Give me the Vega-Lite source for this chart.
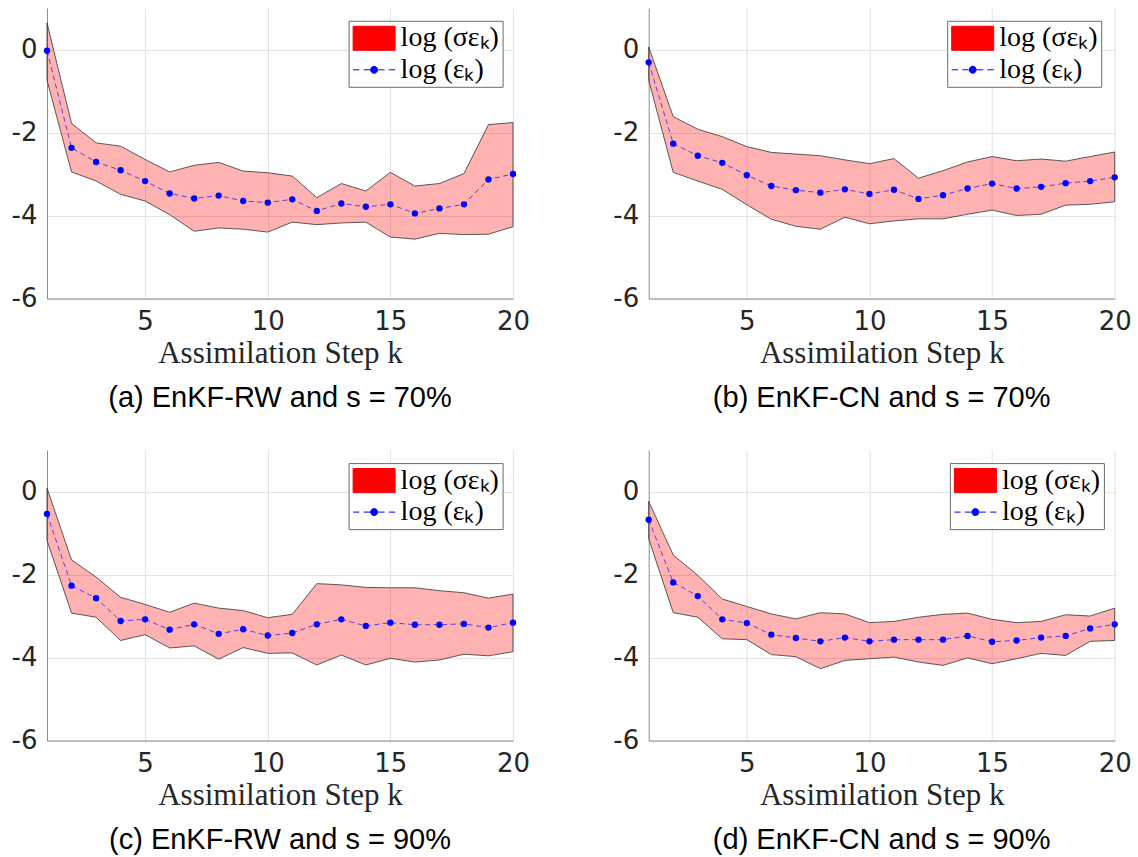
{
  "$schema": "https://vega.github.io/schema/vega-lite/v6.json",
  "background": "white",
  "padding": {"left": 11, "top": 8, "right": 0, "bottom": 0},
  "data": {
    "values": [
      {"panel": "a", "k": 1, "lo": -0.74, "hi": 0.64, "err": -0.03},
      {"panel": "a", "k": 2, "lo": -2.95, "hi": -1.78, "err": -2.37},
      {"panel": "a", "k": 3, "lo": -3.17, "hi": -2.25, "err": -2.71},
      {"panel": "a", "k": 4, "lo": -3.49, "hi": -2.33, "err": -2.91},
      {"panel": "a", "k": 5, "lo": -3.65, "hi": -2.65, "err": -3.17},
      {"panel": "a", "k": 6, "lo": -3.98, "hi": -2.95, "err": -3.47},
      {"panel": "a", "k": 7, "lo": -4.38, "hi": -2.79, "err": -3.59},
      {"panel": "a", "k": 8, "lo": -4.3, "hi": -2.72, "err": -3.52},
      {"panel": "a", "k": 9, "lo": -4.33, "hi": -2.93, "err": -3.65},
      {"panel": "a", "k": 10, "lo": -4.4, "hi": -2.97, "err": -3.69},
      {"panel": "a", "k": 11, "lo": -4.16, "hi": -3.05, "err": -3.61},
      {"panel": "a", "k": 12, "lo": -4.22, "hi": -3.57, "err": -3.89},
      {"panel": "a", "k": 13, "lo": -4.18, "hi": -3.23, "err": -3.71},
      {"panel": "a", "k": 14, "lo": -4.16, "hi": -3.41, "err": -3.79},
      {"panel": "a", "k": 15, "lo": -4.52, "hi": -2.96, "err": -3.73},
      {"panel": "a", "k": 16, "lo": -4.57, "hi": -3.29, "err": -3.95},
      {"panel": "a", "k": 17, "lo": -4.43, "hi": -3.23, "err": -3.83},
      {"panel": "a", "k": 18, "lo": -4.46, "hi": -2.99, "err": -3.73},
      {"panel": "a", "k": 19, "lo": -4.45, "hi": -1.81, "err": -3.13},
      {"panel": "a", "k": 20, "lo": -4.27, "hi": -1.76, "err": -3.0},
      {"panel": "b", "k": 1, "lo": -0.74, "hi": 0.06, "err": -0.31},
      {"panel": "b", "k": 2, "lo": -2.96, "hi": -1.62, "err": -2.27},
      {"panel": "b", "k": 3, "lo": -3.17, "hi": -1.92, "err": -2.56},
      {"panel": "b", "k": 4, "lo": -3.37, "hi": -2.1, "err": -2.73},
      {"panel": "b", "k": 5, "lo": -3.74, "hi": -2.34, "err": -3.03},
      {"panel": "b", "k": 6, "lo": -4.09, "hi": -2.48, "err": -3.29},
      {"panel": "b", "k": 7, "lo": -4.26, "hi": -2.52, "err": -3.39},
      {"panel": "b", "k": 8, "lo": -4.33, "hi": -2.56, "err": -3.45},
      {"panel": "b", "k": 9, "lo": -4.04, "hi": -2.66, "err": -3.37},
      {"panel": "b", "k": 10, "lo": -4.2, "hi": -2.75, "err": -3.48},
      {"panel": "b", "k": 11, "lo": -4.13, "hi": -2.63, "err": -3.38},
      {"panel": "b", "k": 12, "lo": -4.08, "hi": -3.1, "err": -3.6},
      {"panel": "b", "k": 13, "lo": -4.08, "hi": -2.92, "err": -3.51},
      {"panel": "b", "k": 14, "lo": -3.97, "hi": -2.71, "err": -3.35},
      {"panel": "b", "k": 15, "lo": -3.87, "hi": -2.58, "err": -3.23},
      {"panel": "b", "k": 16, "lo": -4.0, "hi": -2.68, "err": -3.35},
      {"panel": "b", "k": 17, "lo": -3.97, "hi": -2.64, "err": -3.31},
      {"panel": "b", "k": 18, "lo": -3.75, "hi": -2.69, "err": -3.22},
      {"panel": "b", "k": 19, "lo": -3.73, "hi": -2.58, "err": -3.17},
      {"panel": "b", "k": 20, "lo": -3.67, "hi": -2.47, "err": -3.08},
      {"panel": "c", "k": 1, "lo": -1.18, "hi": 0.08, "err": -0.54},
      {"panel": "c", "k": 2, "lo": -2.93, "hi": -1.65, "err": -2.27},
      {"panel": "c", "k": 3, "lo": -3.03, "hi": -2.06, "err": -2.57},
      {"panel": "c", "k": 4, "lo": -3.59, "hi": -2.55, "err": -3.12},
      {"panel": "c", "k": 5, "lo": -3.45, "hi": -2.72, "err": -3.08},
      {"panel": "c", "k": 6, "lo": -3.77, "hi": -2.91, "err": -3.33},
      {"panel": "c", "k": 7, "lo": -3.72, "hi": -2.69, "err": -3.2},
      {"panel": "c", "k": 8, "lo": -4.04, "hi": -2.81, "err": -3.43},
      {"panel": "c", "k": 9, "lo": -3.76, "hi": -2.87, "err": -3.32},
      {"panel": "c", "k": 10, "lo": -3.9, "hi": -3.04, "err": -3.47},
      {"panel": "c", "k": 11, "lo": -3.89, "hi": -2.96, "err": -3.41},
      {"panel": "c", "k": 12, "lo": -4.18, "hi": -2.22, "err": -3.2},
      {"panel": "c", "k": 13, "lo": -3.94, "hi": -2.25, "err": -3.08},
      {"panel": "c", "k": 14, "lo": -4.18, "hi": -2.31, "err": -3.24},
      {"panel": "c", "k": 15, "lo": -4.02, "hi": -2.32, "err": -3.16},
      {"panel": "c", "k": 16, "lo": -4.11, "hi": -2.32, "err": -3.21},
      {"panel": "c", "k": 17, "lo": -4.06, "hi": -2.39, "err": -3.21},
      {"panel": "c", "k": 18, "lo": -3.92, "hi": -2.44, "err": -3.19},
      {"panel": "c", "k": 19, "lo": -3.96, "hi": -2.57, "err": -3.28},
      {"panel": "c", "k": 20, "lo": -3.86, "hi": -2.47, "err": -3.16},
      {"panel": "d", "k": 1, "lo": -1.14, "hi": -0.24, "err": -0.68},
      {"panel": "d", "k": 2, "lo": -2.92, "hi": -1.53, "err": -2.19},
      {"panel": "d", "k": 3, "lo": -3.03, "hi": -2.02, "err": -2.52},
      {"panel": "d", "k": 4, "lo": -3.55, "hi": -2.59, "err": -3.08},
      {"panel": "d", "k": 5, "lo": -3.57, "hi": -2.77, "err": -3.17},
      {"panel": "d", "k": 6, "lo": -3.93, "hi": -2.95, "err": -3.45},
      {"panel": "d", "k": 7, "lo": -3.98, "hi": -3.07, "err": -3.53},
      {"panel": "d", "k": 8, "lo": -4.27, "hi": -2.92, "err": -3.61},
      {"panel": "d", "k": 9, "lo": -4.07, "hi": -2.95, "err": -3.52},
      {"panel": "d", "k": 10, "lo": -4.03, "hi": -3.16, "err": -3.61},
      {"panel": "d", "k": 11, "lo": -3.99, "hi": -3.13, "err": -3.57},
      {"panel": "d", "k": 12, "lo": -4.11, "hi": -3.03, "err": -3.57},
      {"panel": "d", "k": 13, "lo": -4.19, "hi": -2.96, "err": -3.57},
      {"panel": "d", "k": 14, "lo": -4.01, "hi": -2.93, "err": -3.48},
      {"panel": "d", "k": 15, "lo": -4.15, "hi": -3.08, "err": -3.62},
      {"panel": "d", "k": 16, "lo": -4.03, "hi": -3.16, "err": -3.59},
      {"panel": "d", "k": 17, "lo": -3.9, "hi": -3.13, "err": -3.52},
      {"panel": "d", "k": 18, "lo": -3.95, "hi": -2.97, "err": -3.48},
      {"panel": "d", "k": 19, "lo": -3.61, "hi": -3.0, "err": -3.3},
      {"panel": "d", "k": 20, "lo": -3.59, "hi": -2.81, "err": -3.2}
    ]
  },
  "columns": 2,
  "spacing": {"column": 135.7, "row": 151},
  "bounds": "flush",
  "resolve": {"scale": {"color": "independent"}, "legend": {"color": "independent"}},
  "concat": [
    {
      "width": 466, "height": 290.5,
      "title": "(a) EnKF-RW and s = 70%",
      "transform": [{"filter": "datum.panel === 'a'"}],
      "encoding": {
        "x": {"field": "k", "type": "quantitative", "scale": {"domain": [1, 20], "nice": false, "zero": false},
              "axis": {"values": [5, 10, 15, 20], "title": "Assimilation Step k"}}
      },
      "layer": [
        {
          "mark": {"type": "area", "fillOpacity": 0.3, "stroke": "#333333", "strokeWidth": 0.8},
          "encoding": {
            "y": {"field": "lo", "type": "quantitative", "scale": {"domain": [-6, 1], "nice": false, "zero": false},
                  "axis": {"values": [-6, -4, -2, 0], "title": null}},
            "y2": {"field": "hi"},
            "color": {"datum": "sigma", "type": "nominal",
                      "scale": {"domain": ["sigma", "eps"], "range": ["#ff0000", "#0000ff"]},
                      "legend": {"orient": "none", "legendX": 301.6, "legendY": 12.8,
                                 "labelExpr": "datum.value === 'sigma' ? 'log (σεₖ)' : 'log (εₖ)'"}}
          }
        },
        {
          "mark": {"type": "line", "strokeDash": [5, 3.5], "strokeWidth": 1, "strokeOpacity": 0.65},
          "encoding": {"y": {"field": "err", "type": "quantitative"}, "color": {"datum": "eps", "type": "nominal"}}
        },
        {
          "mark": {"type": "point", "filled": true, "size": 40, "opacity": 1},
          "encoding": {"y": {"field": "err", "type": "quantitative"}, "color": {"datum": "eps", "type": "nominal"}}
        }
      ]
    },
    {
      "width": 466, "height": 290.5,
      "title": "(b) EnKF-CN and s = 70%",
      "transform": [{"filter": "datum.panel === 'b'"}],
      "encoding": {
        "x": {"field": "k", "type": "quantitative", "scale": {"domain": [1, 20], "nice": false, "zero": false},
              "axis": {"values": [5, 10, 15, 20], "title": "Assimilation Step k"}}
      },
      "layer": [
        {
          "mark": {"type": "area", "fillOpacity": 0.3, "stroke": "#333333", "strokeWidth": 0.8},
          "encoding": {
            "y": {"field": "lo", "type": "quantitative", "scale": {"domain": [-6, 1], "nice": false, "zero": false},
                  "axis": {"values": [-6, -4, -2, 0], "title": null}},
            "y2": {"field": "hi"},
            "color": {"datum": "sigma", "type": "nominal",
                      "scale": {"domain": ["sigma", "eps"], "range": ["#ff0000", "#0000ff"]},
                      "legend": {"orient": "none", "legendX": 298.5, "legendY": 12.8,
                                 "labelExpr": "datum.value === 'sigma' ? 'log (σεₖ)' : 'log (εₖ)'"}}
          }
        },
        {
          "mark": {"type": "line", "strokeDash": [5, 3.5], "strokeWidth": 1, "strokeOpacity": 0.65},
          "encoding": {"y": {"field": "err", "type": "quantitative"}, "color": {"datum": "eps", "type": "nominal"}}
        },
        {
          "mark": {"type": "point", "filled": true, "size": 40, "opacity": 1},
          "encoding": {"y": {"field": "err", "type": "quantitative"}, "color": {"datum": "eps", "type": "nominal"}}
        }
      ]
    },
    {
      "width": 466, "height": 290.5,
      "title": "(c) EnKF-RW and s = 90%",
      "transform": [{"filter": "datum.panel === 'c'"}],
      "encoding": {
        "x": {"field": "k", "type": "quantitative", "scale": {"domain": [1, 20], "nice": false, "zero": false},
              "axis": {"values": [5, 10, 15, 20], "title": "Assimilation Step k"}}
      },
      "layer": [
        {
          "mark": {"type": "area", "fillOpacity": 0.3, "stroke": "#333333", "strokeWidth": 0.8},
          "encoding": {
            "y": {"field": "lo", "type": "quantitative", "scale": {"domain": [-6, 1], "nice": false, "zero": false},
                  "axis": {"values": [-6, -4, -2, 0], "title": null}},
            "y2": {"field": "hi"},
            "color": {"datum": "sigma", "type": "nominal",
                      "scale": {"domain": ["sigma", "eps"], "range": ["#ff0000", "#0000ff"]},
                      "legend": {"orient": "none", "legendX": 301.6, "legendY": 13.1,
                                 "labelExpr": "datum.value === 'sigma' ? 'log (σεₖ)' : 'log (εₖ)'"}}
          }
        },
        {
          "mark": {"type": "line", "strokeDash": [5, 3.5], "strokeWidth": 1, "strokeOpacity": 0.65},
          "encoding": {"y": {"field": "err", "type": "quantitative"}, "color": {"datum": "eps", "type": "nominal"}}
        },
        {
          "mark": {"type": "point", "filled": true, "size": 40, "opacity": 1},
          "encoding": {"y": {"field": "err", "type": "quantitative"}, "color": {"datum": "eps", "type": "nominal"}}
        }
      ]
    },
    {
      "width": 466, "height": 290.5,
      "title": "(d) EnKF-CN and s = 90%",
      "transform": [{"filter": "datum.panel === 'd'"}],
      "encoding": {
        "x": {"field": "k", "type": "quantitative", "scale": {"domain": [1, 20], "nice": false, "zero": false},
              "axis": {"values": [5, 10, 15, 20], "title": "Assimilation Step k"}}
      },
      "layer": [
        {
          "mark": {"type": "area", "fillOpacity": 0.3, "stroke": "#333333", "strokeWidth": 0.8},
          "encoding": {
            "y": {"field": "lo", "type": "quantitative", "scale": {"domain": [-6, 1], "nice": false, "zero": false},
                  "axis": {"values": [-6, -4, -2, 0], "title": null}},
            "y2": {"field": "hi"},
            "color": {"datum": "sigma", "type": "nominal",
                      "scale": {"domain": ["sigma", "eps"], "range": ["#ff0000", "#0000ff"]},
                      "legend": {"orient": "none", "legendX": 301.2, "legendY": 13.1,
                                 "labelExpr": "datum.value === 'sigma' ? 'log (σεₖ)' : 'log (εₖ)'"}}
          }
        },
        {
          "mark": {"type": "line", "strokeDash": [5, 3.5], "strokeWidth": 1, "strokeOpacity": 0.65},
          "encoding": {"y": {"field": "err", "type": "quantitative"}, "color": {"datum": "eps", "type": "nominal"}}
        },
        {
          "mark": {"type": "point", "filled": true, "size": 40, "opacity": 1},
          "encoding": {"y": {"field": "err", "type": "quantitative"}, "color": {"datum": "eps", "type": "nominal"}}
        }
      ]
    }
  ],
  "config": {
    "view": {"stroke": null},
    "axis": {
      "grid": true, "gridColor": "#e3e3e3", "gridWidth": 1,
      "domainColor": "#8c8c8c", "domainWidth": 1,
      "ticks": false, "labelFlush": false, "labelOverlap": false,
      "labelExpr": "toString(datum.value)",
      "labelFont": "DejaVu Sans", "labelFontSize": 26, "labelColor": "#262626",
      "titleFont": "Liberation Serif", "titleFontSize": 31, "titleFontWeight": "normal", "titleColor": "#262626"
    },
    "axisX": {"labelPadding": 10, "titleBaseline": "alphabetic", "titleY": 64},
    "axisY": {"labelPadding": 10},
    "title": {"orient": "bottom", "font": "Liberation Sans", "fontSize": 29, "fontWeight": "normal", "color": "#000000", "offset": 15},
    "legend": {
      "title": null,
      "fillColor": "#ffffff", "strokeColor": "#6b6b6b", "strokeWidth": 1, "cornerRadius": 0,
      "padding": 3, "rowPadding": 2.5,
      "labelFont": "Liberation Serif", "labelFontSize": 28, "labelColor": "#000000",
      "symbolSize": 784, "symbolOffset": 8, "labelOffset": 12,
      "symbolType": {"expr": "datum.value === 'sigma' ? 'M-1.5,-0.86H1.5V0.86H-1.5Z' : 'M-1.5,0H-1.05M-0.75,0H-0.3M0.3,0H0.75M1.05,0H1.5M-0.25,0A0.25,0.25,0,1,0,0.25,0A0.25,0.25,0,1,0,-0.25,0Z'"},
      "symbolFillColor": {"expr": "datum.value === 'sigma' ? '#ff0000' : '#0000ff'"},
      "symbolStrokeColor": {"expr": "datum.value === 'sigma' ? '#444444' : '#5a5aff'"},
      "symbolStrokeWidth": 1,
      "symbolOpacity": 1
    }
  }
}
